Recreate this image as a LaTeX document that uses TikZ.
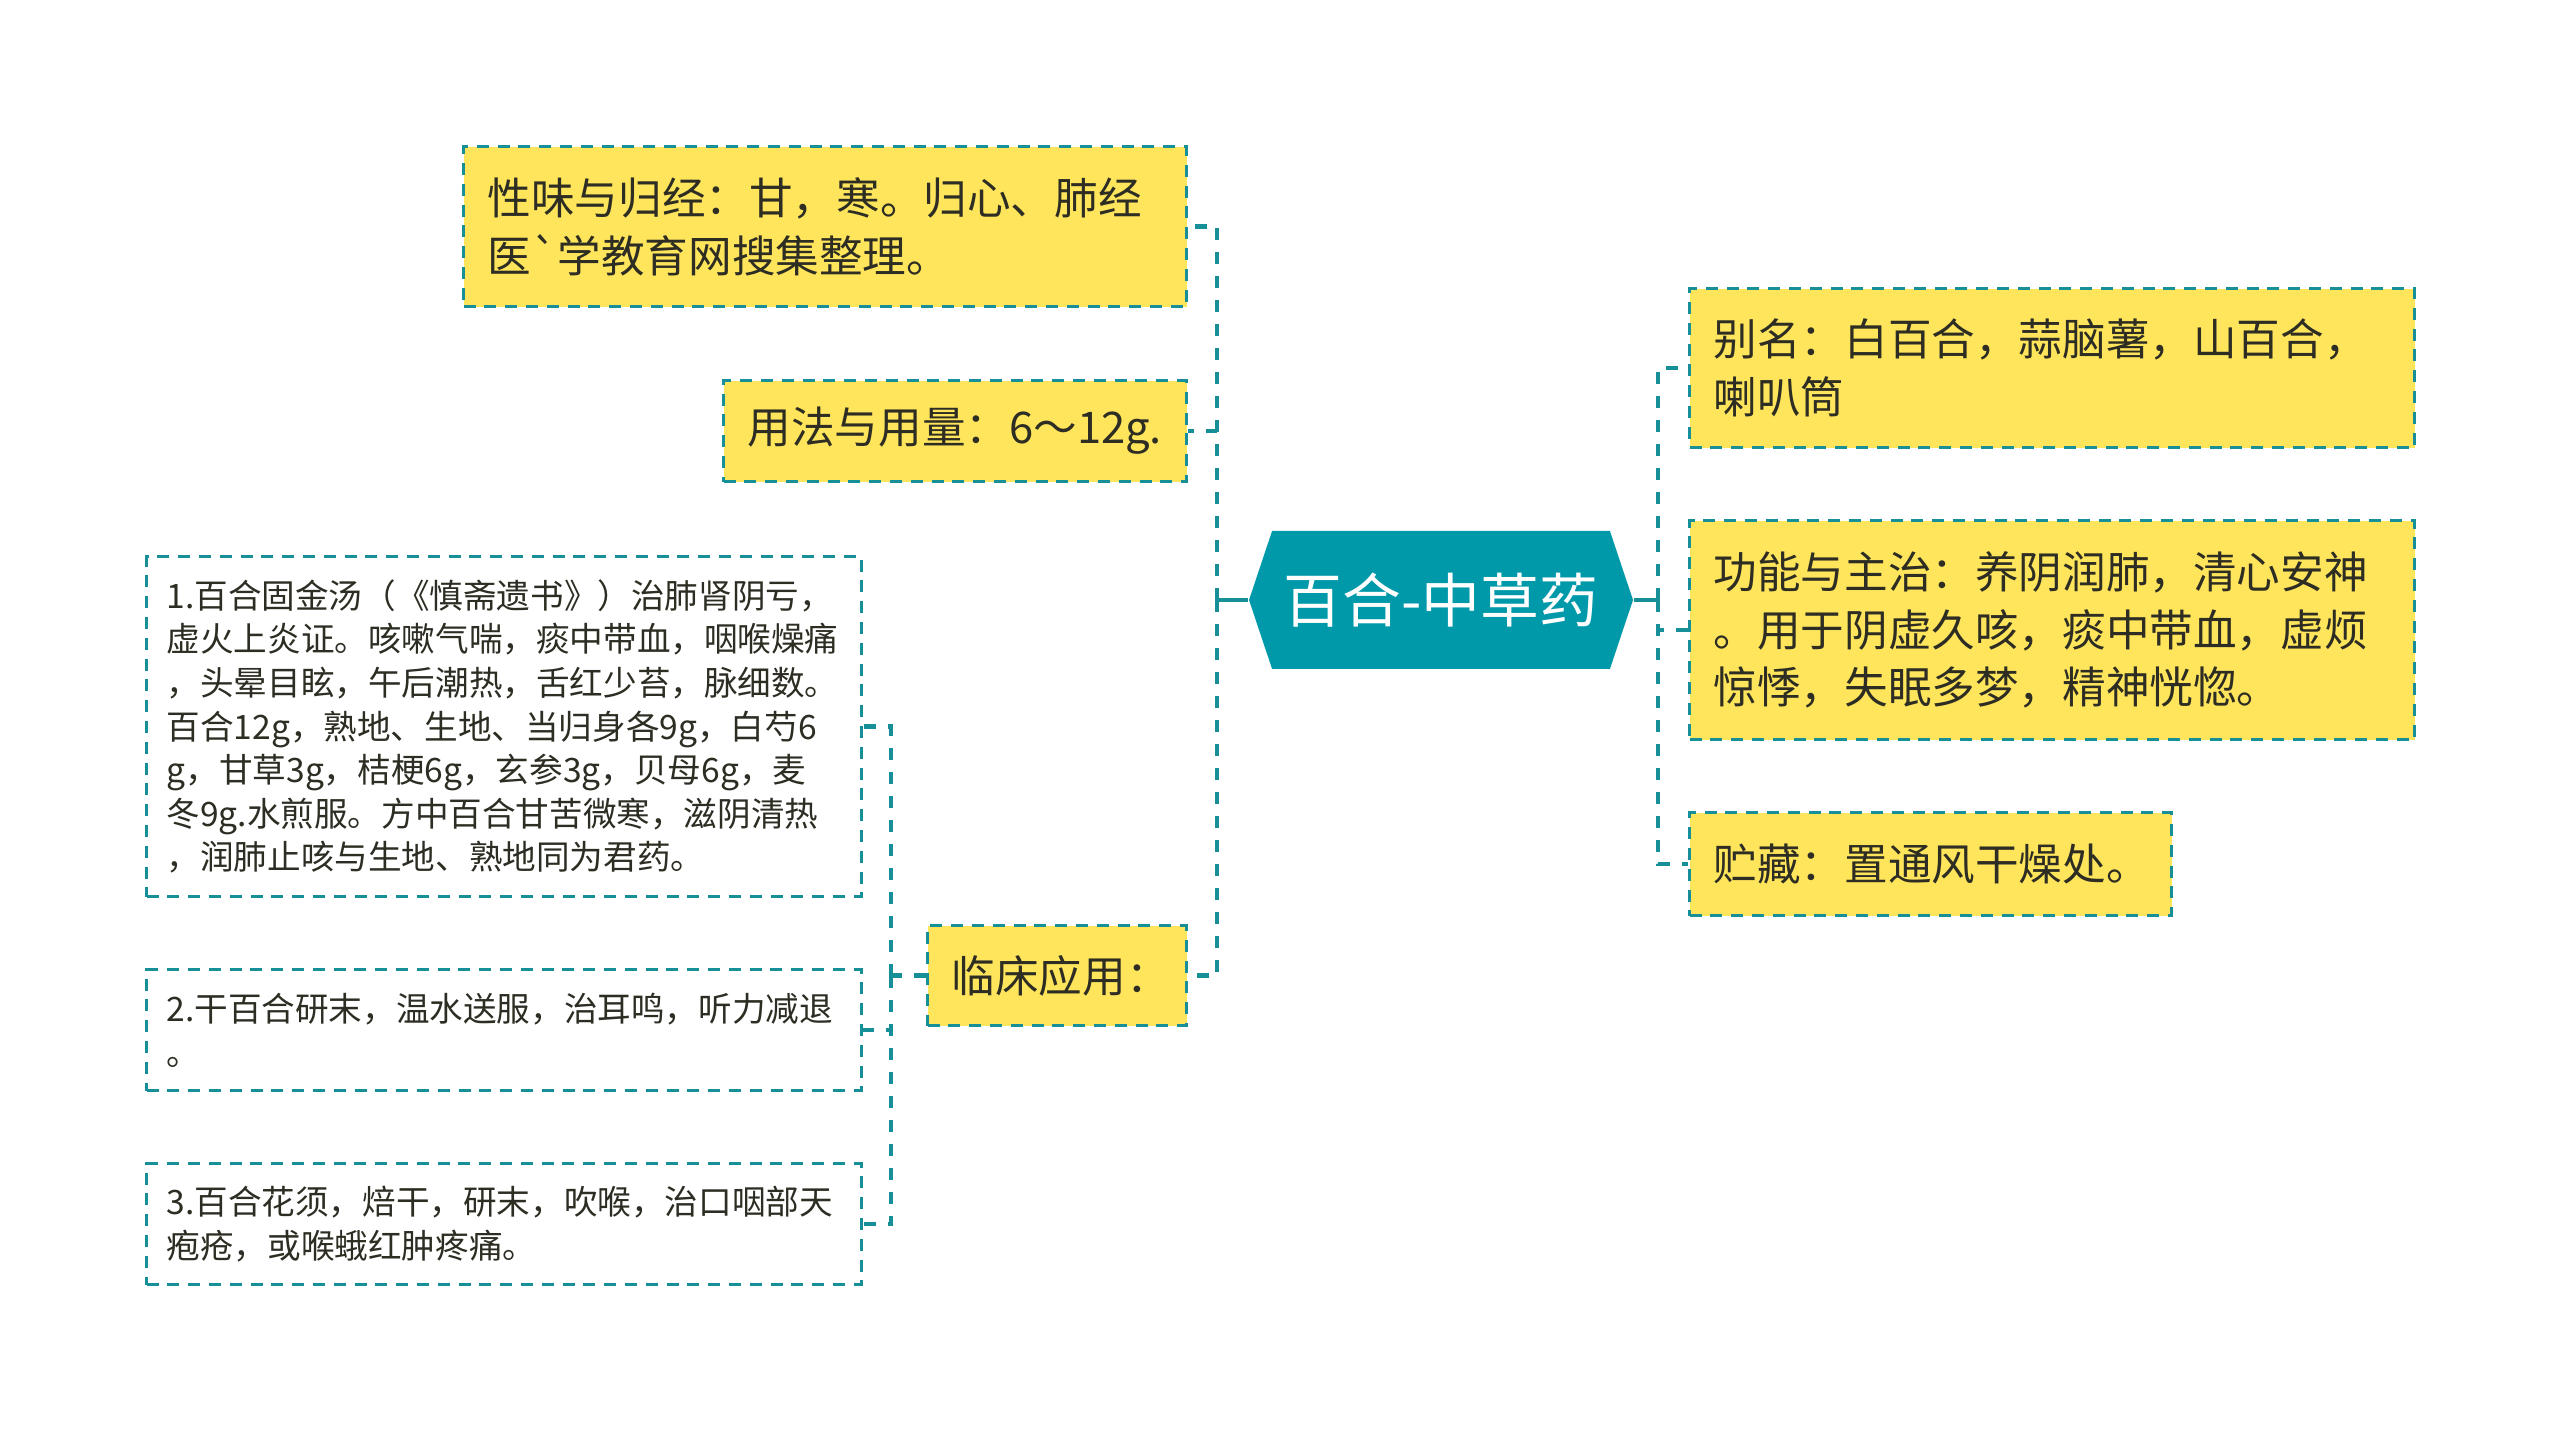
\documentclass[tikz,border=0pt]{standalone}
\usepackage{fontspec}
\newfontfamily\cjk{Noto Sans CJK SC}
\usetikzlibrary{shapes.symbols}
\definecolor{hexfill}{RGB}{0,153,170}
\definecolor{linec}{RGB}{22,143,153}
\definecolor{leaffill}{RGB}{255,229,92}
\definecolor{inkc}{RGB}{45,45,35}

\begin{document}
\begin{tikzpicture}[x=0.25pt,y=0.25pt,yscale=-1,
  every node/.style={font=\cjk, text=inkc},
  leaf/.style={draw=linec, fill=leaffill, line width=0.8pt, dash pattern=on 3pt off 2.2pt, anchor=north west, inner xsep=6pt, inner ysep=0pt, align=left, font=\cjk\fontsize{10.9pt}{14.4pt}\selectfont},
  subleaf/.style={leaf, fill=white, inner xsep=5pt, font=\cjk\fontsize{8.4pt}{10.9pt}\selectfont},
  branch/.style={draw=linec, line width=1.1pt, dash pattern=on 3pt off 3pt},
  stem/.style={draw=linec, line width=1.1pt},
]
%set diagram size 2560 x 1431
\useasboundingbox (0,0) rectangle (2560,1431);

%Shape: Hexagon (root)
\node[signal, signal to=east and west, signal pointer angle=143, fill=hexfill, text=white, minimum width=96pt, minimum height=34.5pt, inner sep=0pt, font=\cjk\fontsize{14.7pt}{18pt}\selectfont] (root) at (1441,600) {百合-中草药};

% Text Node
\node[leaf, text width=168.75pt, minimum height=40pt] (xingwei) at (462,145) {性味与归经：甘，寒。归心、肺经\\医\textasciigrave 学教育网搜集整理。};
% Text Node
\node[leaf, text width=103.75pt, minimum height=25.25pt] (yongfa) at (722,379) {用法与用量：6～12g.};
% Text Node
\node[leaf, text width=52.75pt, minimum height=25pt] (linchuang) at (926,924) {临床应用：};

% Text Node
\node[subleaf, text width=168.75pt, minimum height=85pt] (fang1) at (145,555) {1.百合固金汤（《慎斋遗书》）治肺肾阴亏，\\虚火上炎证。咳嗽气喘，痰中带血，咽喉燥痛\\，头晕目眩，午后潮热，舌红少苔，脉细数。\\百合12g，熟地、生地、当归身各9g，白芍6\\g，甘草3g，桔梗6g，玄参3g，贝母6g，麦\\冬9g.水煎服。方中百合甘苦微寒，滋阴清热\\，润肺止咳与生地、熟地同为君药。};
% Text Node
\node[subleaf, text width=168.75pt, minimum height=30.25pt] (fang2) at (145,968) {2.干百合研末，温水送服，治耳鸣，听力减退\\。};
% Text Node
\node[subleaf, text width=168.75pt, minimum height=30.25pt] (fang3) at (145,1162) {3.百合花须，焙干，研末，吹喉，治口咽部天\\疱疮，或喉蛾红肿疼痛。};

% Text Node
\node[leaf, text width=169.25pt, minimum height=39.75pt] (bieming) at (1688,287) {别名：白百合，蒜脑薯，山百合，\\喇叭筒};
% Text Node
\node[leaf, text width=169.25pt, minimum height=54.75pt] (gongneng) at (1688,519) {功能与主治：养阴润肺，清心安神\\。用于阴虚久咳，痰中带血，虚烦\\惊悸，失眠多梦，精神恍惚。};
% Text Node
\node[leaf, text width=108.5pt, minimum height=25.75pt] (zhucang) at (1688,811) {贮藏：置通风干燥处。};

%Straight Lines (left)
\coordinate (ljoin) at ([xshift=-7.75pt]root.west);
\draw[stem] (root.west) -- (ljoin);
\draw[branch] (ljoin) |- (xingwei.east);
\draw[branch] (ljoin) |- (yongfa.east);
\draw[branch] (ljoin) |- (linchuang.east);

%Straight Lines (clinical use)
\coordinate (sjoin) at ([xshift=-8.75pt]linchuang.west);
\draw[branch] (linchuang.west) -- (sjoin);
\draw[branch] (sjoin) |- (fang1.east);
\draw[branch] (sjoin) |- (fang2.east);
\draw[branch] (sjoin) |- (fang3.east);

%Straight Lines (right)
\coordinate (rjoin) at ([xshift=6pt]root.east);
\draw[stem] (root.east) -- (rjoin);
\draw[branch] (rjoin) |- (bieming.west);
\draw[branch] (rjoin) |- (gongneng.west);
\draw[branch] (rjoin) |- (zhucang.west);

\end{tikzpicture}
\end{document}
